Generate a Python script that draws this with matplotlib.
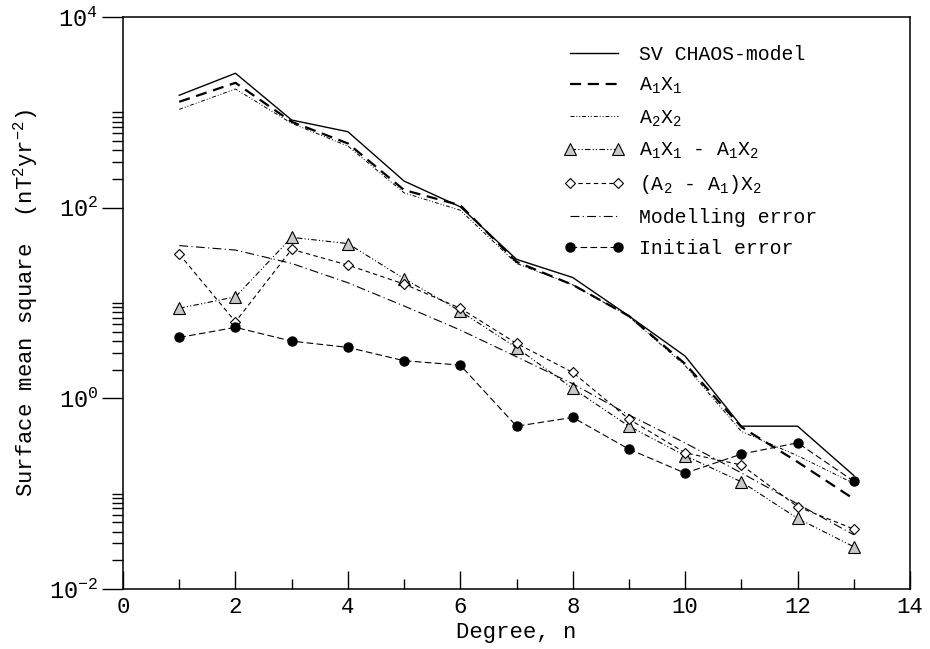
import numpy as np
import matplotlib
matplotlib.use('Agg')
import matplotlib.pyplot as plt
from matplotlib.ticker import FixedLocator, NullFormatter

plt.rcParams['font.family'] = ['Liberation Mono', 'DejaVu Sans Mono']
plt.rcParams['mathtext.fontset'] = 'custom'
plt.rcParams['mathtext.rm'] = 'Liberation Mono'
plt.rcParams['mathtext.it'] = 'Liberation Mono'
plt.rcParams['mathtext.bf'] = 'Liberation Mono'

# spherical harmonic degree
degree = [1, 2, 3, 4, 5, 6, 7, 8, 9, 10, 11, 12, 13]

sv_chaos = [1510, 2570, 830, 626, 190, 102, 28.7, 18.5, 7.3, 2.77, 0.51, 0.51, 0.155]
a1x1 = [1290, 2040, 795, 472, 153, 106, 27, 15.5, 7.3, 2.3, 0.5, 0.215, 0.088]
a2x2 = [1075, 1757, 767, 443, 143, 94, 26, 15.5, 7.2, 2.2, 0.45, 0.25, 0.128]
diff_x = [8.8, 11.6, 48.8, 42, 18, 8.2, 3.4, 1.27, 0.51, 0.25, 0.133, 0.055, 0.0277]
diff_a = [32.6, 6.35, 36.5, 25, 15.8, 8.8, 3.77, 1.87, 0.605, 0.268, 0.2, 0.073, 0.0425]
model_err = [40, 35.9, 26, 16.3, 9.3, 5.2, 2.73, 1.42, 0.67, 0.34, 0.165, 0.078, 0.037]
init_err = [4.35, 5.55, 3.98, 3.42, 2.48, 2.23, 0.51, 0.63, 0.293, 0.164, 0.26, 0.341, 0.135]

fig = plt.figure(figsize=(9.3, 6.49), dpi=100)
ax = fig.add_axes([0.1323, 0.0925, 0.8462, 0.8813])

ax.plot(degree, sv_chaos, '-', color='black', lw=1.0, label='SV CHAOS-model')
ax.plot(degree, a1x1, color='black', lw=1.6, ls=(0, (5, 3)), label='A$_1$X$_1$')
ax.plot(degree, a2x2, color='black', lw=0.7, ls=(0, (4, 2, 1, 2, 1, 2)), label='A$_2$X$_2$')
ax.plot(degree, diff_x, color='black', lw=0.8, ls=(0, (5, 2, 1, 2, 1, 2)),
        marker='^', ms=8, mfc='#c8c8c8', mec='black', mew=0.8,
        label='A$_1$X$_1$ - A$_1$X$_2$')
ax.plot(degree, diff_a, color='black', lw=0.8, ls=(0, (4, 3)),
        marker='D', ms=5.5, mfc='white', mec='black', mew=0.8,
        label='(A$_2$ - A$_1$)X$_2$')
ax.plot(degree, model_err, color='black', lw=0.8, ls=(0, (8, 3, 1, 3)),
        label='Modelling error')
ax.plot(degree, init_err, color='black', lw=0.8, ls=(0, (6, 3)),
        marker='o', ms=6.5, mfc='black', mec='black', label='Initial error')

ax.set_yscale('log')
ax.set_xlim(0, 14)
ax.set_ylim(1e-2, 1e4)

ax.set_xticks(np.arange(0, 15, 2))
ax.xaxis.set_minor_locator(FixedLocator(np.arange(1, 14, 2)))
ax.set_yticks([1e-2, 1e0, 1e2, 1e4])
ax.set_yticklabels(['$10^{-2}$', '$10^{0}$', '$10^{2}$', '$10^{4}$'])
yminor = []
for k in [-2, 0, 2]:
    yminor += [m * 10.0 ** k for m in range(2, 11)]
ax.yaxis.set_minor_locator(FixedLocator(yminor))
ax.yaxis.set_minor_formatter(NullFormatter())

ax.tick_params(axis='x', which='major', direction='in', length=13, width=1, labelsize=16, pad=6)
ax.tick_params(axis='x', which='minor', direction='in', length=7, width=1)
ax.tick_params(axis='y', which='major', direction='out', length=15, width=1, labelsize=17, pad=3)
ax.tick_params(axis='y', which='minor', direction='out', length=8, width=1)
for s in ax.spines.values():
    s.set_linewidth(1.1)

ax.set_xlabel('Degree, n', fontsize=16, labelpad=3)
ax.set_ylabel('Surface mean square  (nT$^{2}$yr$^{-2}$)', fontsize=16, labelpad=6)

ax.legend(loc='upper left', bbox_to_anchor=(0.538, 0.982), frameon=False,
          fontsize=14.3, numpoints=2, handlelength=3.0, handletextpad=0.75,
          labelspacing=0.6)

fig.savefig('out.png', dpi=100)
